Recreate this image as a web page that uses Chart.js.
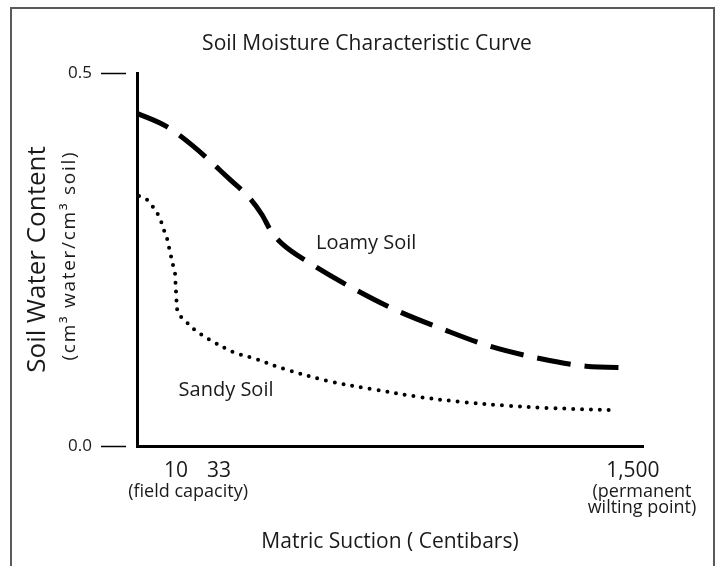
<!DOCTYPE html>
<html><head><meta charset="utf-8">
<script src="https://cdn.jsdelivr.net/npm/chart.js@4/dist/chart.umd.min.js"></script>
<style>html,body{margin:0;padding:0;background:#fff}#wrap{width:719px;height:566px;position:relative}</style>
</head><body><div id="wrap"><canvas id="c" width="719" height="566"></canvas></div>
<script>
// Schematic x axis: positions 0..100 along the (non-linear) matric suction axis
const loamyX = [0, 5.9, 11.1, 18.4, 22.3, 24.7, 26.5, 28.7, 34.2, 42.5, 51.2, 60.3, 69.6, 79.1, 88.7, 97.8];
const loamyY = [0.446, 0.428, 0.402, 0.357, 0.332, 0.310, 0.288, 0.271, 0.245, 0.212, 0.182, 0.157, 0.134, 0.118, 0.107, 0.105];
const sandyX = [0.4, 1.8, 3.0, 4.0, 4.7, 5.3, 5.9, 6.3, 6.7, 7.1, 7.5, 7.6, 7.7, 7.8, 7.9, 8.7, 10.1, 11.5, 12.8, 14.2, 19.0, 22.9, 29.2, 37.9, 46.6, 55.5, 64.2, 73.1, 81.0, 94.5];
const sandyY = [0.335, 0.331, 0.322, 0.312, 0.302, 0.290, 0.279, 0.267, 0.255, 0.243, 0.232, 0.220, 0.208, 0.196, 0.184, 0.173, 0.164, 0.155, 0.149, 0.143, 0.126, 0.118, 0.103, 0.087, 0.076, 0.066, 0.059, 0.054, 0.051, 0.048];
const xTickPositions = [7.7, 16.2, 98.0];
const xTickLabels = ['10', '33', '1,500'];
const yTickValues = [0, 0.5];
const seriesNames = ['Loamy Soil', 'Sandy Soil'];

const FONT = "'Open Sans', 'DejaVu Sans', sans-serif";
const TXT = '#1a1a1a';

const xNotes = [
  {lines: ['(field capacity)'], at: 10.1, size: 18},
  {lines: ['(permanent', 'wilting point)'], at: 99.8, size: 18}
];
const seriesLabelAt = [{x: 45.3, y: 0.272}, {x: 17.6, y: 0.074}];

function fittedText(ctx, text, width) {
  ctx.letterSpacing = '0px';
  const w = ctx.measureText(text).width;
  const n = [...text].length - 1;
  const ls = Math.max(0, (width - w) / n);
  ctx.letterSpacing = ls.toFixed(2) + 'px';
  ctx.fillText(text, ls / 2, 0);
  ctx.letterSpacing = '0px';
}

const extras = {
  id: 'extras',
  beforeDraw(chart) {
    const ctx = chart.ctx;
    ctx.save();
    ctx.strokeStyle = '#5a5a5a';
    ctx.lineWidth = 2;
    ctx.beginPath();
    ctx.moveTo(11, 566); ctx.lineTo(11, 8); ctx.lineTo(714, 8); ctx.lineTo(714, 566);
    ctx.stroke();
    ctx.restore();
  },
  afterDraw(chart) {
    const ctx = chart.ctx;
    const xs = chart.scales.x, ys = chart.scales.y;
    const ca = chart.chartArea;
    ctx.save();
    ctx.fillStyle = TXT;
    // y axis titles
    const cy = (ca.top + ca.bottom) / 2;
    ctx.save();
    ctx.translate(38, cy);
    ctx.rotate(-Math.PI / 2);
    ctx.textAlign = 'center'; ctx.textBaseline = 'middle';
    ctx.font = '26px ' + FONT;
    ctx.fillText('Soil Water Content', 0, 0);
    ctx.restore();
    ctx.save();
    ctx.translate(70, cy - 3);
    ctx.rotate(-Math.PI / 2);
    ctx.textAlign = 'center'; ctx.textBaseline = 'middle';
    ctx.font = '19px ' + FONT;
    fittedText(ctx, '(cm\u00B3 water/cm\u00B3 soil)', 208);
    ctx.restore();
    // x notes
    ctx.textAlign = 'center'; ctx.textBaseline = 'middle';
    xNotes.forEach(n => {
      ctx.font = n.size + 'px ' + FONT;
      const px = xs.getPixelForValue(n.at);
      n.lines.forEach((l, i) => ctx.fillText(l, px, xs.top + 45.5 + i * 16.5));
    });
    // series labels
    ctx.font = '20px ' + FONT;
    seriesNames.forEach((nm, i) => {
      ctx.fillText(nm, xs.getPixelForValue(seriesLabelAt[i].x), ys.getPixelForValue(seriesLabelAt[i].y));
    });
    ctx.restore();
  }
};

const toPts = (xa, ya) => xa.map((v, i) => ({x: v, y: ya[i]}));

new Chart(document.getElementById('c'), {
  type: 'line',
  data: {
    datasets: [
      {label: seriesNames[0], data: toPts(loamyX, loamyY), borderColor: '#000', borderWidth: 5,
       borderDash: [34, 14], borderCapStyle: 'butt', pointRadius: 0, cubicInterpolationMode: 'monotone', fill: false},
      {label: seriesNames[1], data: toPts(sandyX, sandyY), borderColor: '#000', borderWidth: 4,
       borderDash: [0, 8.9], borderCapStyle: 'round', pointRadius: 0, tension: 0.35, fill: false}
    ]
  },
  options: {
    responsive: false,
    devicePixelRatio: 1,
    animation: false,
    layout: {padding: {left: 15, right: 0, top: 0, bottom: 0}},
    plugins: {
      legend: {display: false},
      tooltip: {enabled: false},
      title: {display: true, text: 'Soil Moisture Characteristic Curve', color: TXT,
              font: {family: FONT, size: 21, weight: 'normal'}, padding: {top: 31, bottom: 16.8}}
    },
    scales: {
      x: {
        type: 'linear', position: 'bottom', min: 0, max: 100,
        afterFit: s => { s.height = 120; },
        afterBuildTicks: s => { s.ticks = xTickPositions.map(v => ({value: v})); },
        ticks: {callback: (v, i) => xTickLabels[i], autoSkip: false, maxRotation: 0, padding: 12.4,
                color: TXT, font: {family: FONT, size: 21}},
        grid: {display: false, drawTicks: false},
        border: {display: true, width: 3, color: '#000'},
        title: {display: true, text: 'Matric Suction ( Centibars)', color: TXT,
                font: {family: FONT, size: 21}, padding: {top: 0, bottom: 11.4}}
      },
      y: {
        type: 'linear', position: 'left', min: 0, max: 0.5,
        afterFit: s => { s.width = 122; },
        afterBuildTicks: s => { s.ticks = yTickValues.map(v => ({value: v})); },
        ticks: {callback: v => v.toFixed(1), padding: 9, color: TXT, font: {family: FONT, size: 17}},
        grid: {display: true, drawOnChartArea: false, drawTicks: true, tickLength: 36,
               tickBorderDash: [25, 100], tickColor: '#000', tickWidth: 1.5},
        border: {display: true, width: 3, color: '#000'}
      },
      yr: {
        type: 'linear', position: 'right', display: true,
        afterFit: s => { s.width = 76; },
        ticks: {display: false}, grid: {display: false, drawTicks: false}, border: {display: false}
      }
    }
  },
  plugins: [extras]
});
</script></body></html>
